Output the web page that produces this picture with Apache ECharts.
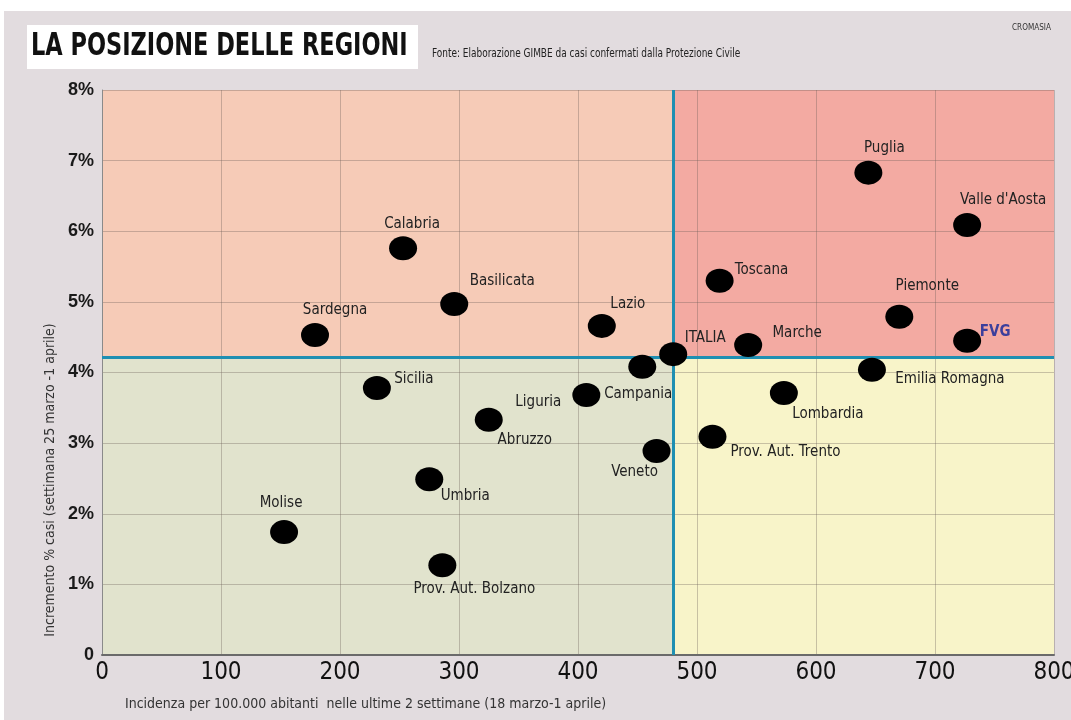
<!DOCTYPE html>
<html>
<head>
<meta charset="utf-8">
<script src="https://cdn.jsdelivr.net/npm/echarts@6/dist/echarts.min.js"></script>
<style>
  html, body { margin: 0; padding: 0; background: #fff; }
  #chart { width: 1071px; height: 720px; }
</style>
</head>
<body>
<div id="chart"></div>
<script>
// regioni, incidenza (x) e incremento % (y)
const regions = ["Puglia", "Valle d'Aosta", "Calabria", "Toscana", "Basilicata", "Lazio", "Sardegna", "Piemonte", "Marche", "ITALIA", "FVG", "Campania", "Emilia Romagna", "Sicilia", "Liguria", "Lombardia", "Abruzzo", "Prov. Aut. Trento", "Veneto", "Umbria", "Molise", "Prov. Aut. Bolzano"];
const incidenza = [644, 727, 253, 519, 296, 420, 179, 670, 543, 480, 727, 454, 647, 231, 407, 573, 325, 513, 466, 275, 153, 286];
const incremento = [6.83, 6.09, 5.76, 5.30, 4.97, 4.66, 4.53, 4.79, 4.39, 4.26, 4.45, 4.08, 4.04, 3.78, 3.68, 3.71, 3.33, 3.09, 2.89, 2.49, 1.74, 1.27];
// posizione etichette (dx, dy) rispetto al punto
const labelOffsets = [[16, -25], [36, -25], [9, -24], [42, -11], [48, -23], [26, -22], [20, -25], [28, -31], [49, -12], [32, -16], [28, -9], [-4, 27], [78, 9], [37, -9], [-48, 7], [44, 21], [36, 20], [73, 15], [-22, 21], [36, 17], [-3, -29], [32, 24]];
const xTicks = [0, 100, 200, 300, 400, 500, 600, 700, 800];
const yTicks = [0, 1, 2, 3, 4, 5, 6, 7, 8];
// soglie (media Italia)
const xMedia = 480;
const yMedia = 4.22;

const font = "'DejaVu Sans Condensed', sans-serif";

let points = regions.map((name, i) => ({
  name: name,
  value: [incidenza[i], incremento[i]],
  label: {
    offset: labelOffsets[i],
    color: name === "FVG" ? "#3b3f9c" : "#222",
    fontWeight: name === "FVG" ? "bold" : "normal",
  },
}));

const chart = echarts.init(document.getElementById("chart"));
chart.setOption({
  backgroundColor: "#e2dcdf",
  animation: false,
  grid: { left: 102, right: 17, top: 90, bottom: 65, outerBoundsMode: "none", containLabel: false },
  xAxis: {
    type: "value",
    min: 0,
    max: 800,
    interval: 100,
    z: 3,
    axisLine: { show: true, onZero: false, lineStyle: { color: "#6a6a6a", width: 2 } },
    axisTick: { show: false },
    splitLine: { show: true, lineStyle: { color: "rgba(110,95,90,0.35)", width: 1 } },
    axisLabel: {
      color: "#111",
      fontFamily: font,
      fontSize: 24,
      margin: 6,
      formatter: (v) => xTicks.includes(v) ? String(v) : "",
    },
  },
  yAxis: {
    type: "value",
    min: 0,
    max: 8,
    interval: 1,
    z: 3,
    axisLine: { show: true, lineStyle: { color: "#8a8a8a", width: 1 } },
    axisTick: { show: false },
    splitLine: { show: true, lineStyle: { color: "rgba(110,95,90,0.35)", width: 1 } },
    axisLabel: {
      color: "#1a1a1a",
      fontFamily: "'Liberation Sans', Arial, sans-serif",
      fontWeight: "bold",
      fontSize: 18,
      margin: 8,
      formatter: (v) => yTicks.includes(v) ? (v === 0 ? "0" : v + "%") : "",
    },
  },
  series: [
    {
      // riquadri colorati
      type: "scatter",
      z: 1,
      data: [],
      silent: true,
      markArea: {
        silent: true,
        data: [
          [{ coord: [0, yMedia], itemStyle: { color: "#f6cbb7" } }, { coord: [xMedia, 8] }],
          [{ coord: [xMedia, yMedia], itemStyle: { color: "#f3aaa2" } }, { coord: [800, 8] }],
          [{ coord: [0, 0], itemStyle: { color: "#e1e3cd" } }, { coord: [xMedia, yMedia] }],
          [{ coord: [xMedia, 0], itemStyle: { color: "#f8f4c9" } }, { coord: [800, yMedia] }],
        ],
      },
    },
    {
      type: "scatter",
      symbol: "circle",
      symbolSize: [28, 24],
      itemStyle: { color: "#000", opacity: 1 },
      z: 5,
      data: points,
      label: {
        show: true,
        position: "inside",
        formatter: "{b}",
        fontFamily: font,
        fontSize: 15,
        align: "center",
        verticalAlign: "middle",
      },
      markLine: {
        silent: true,
        symbol: "none",
        label: { show: false },
        lineStyle: { color: "#1f8fb2", width: 3, type: "solid", opacity: 1 },
        data: [{ xAxis: xMedia }, { yAxis: yMedia }],
      },
    },
  ],
  graphic: [
    { type: "rect", shape: { x: 0, y: 0, width: 1071, height: 11 }, style: { fill: "#fff" } },
    { type: "rect", shape: { x: 0, y: 0, width: 4, height: 720 }, style: { fill: "#fff" } },
    { type: "rect", shape: { x: 27, y: 25, width: 391, height: 44 }, style: { fill: "#fff" } },
    {
      type: "text", x: 31, y: 47, scaleX: 0.78,
      style: { text: "LA POSIZIONE DELLE REGIONI", font: "bold 32px " + font, fill: "#111", verticalAlign: "middle" },
    },
    {
      type: "text", x: 432, y: 54, scaleX: 0.83,
      style: { text: "Fonte: Elaborazione GIMBE da casi confermati dalla Protezione Civile", font: "12px " + font, fill: "#222", verticalAlign: "middle" },
    },
    {
      type: "text", x: 1012, y: 28, scaleX: 0.9,
      style: { text: "CROMASIA", font: "9px " + font, fill: "#333", verticalAlign: "middle" },
    },
    {
      type: "text", x: 50, y: 480, rotation: Math.PI / 2,
      style: { text: "Incremento % casi (settimana 25 marzo -1 aprile)", font: "14px " + font, fill: "#333", align: "center", verticalAlign: "middle" },
    },
    {
      type: "text", left: 125, top: 697,
      style: { text: "Incidenza per 100.000 abitanti  nelle ultime 2 settimane (18 marzo-1 aprile)", font: "14px " + font, fill: "#333" },
    },
  ],
});
</script>
</body>
</html>
